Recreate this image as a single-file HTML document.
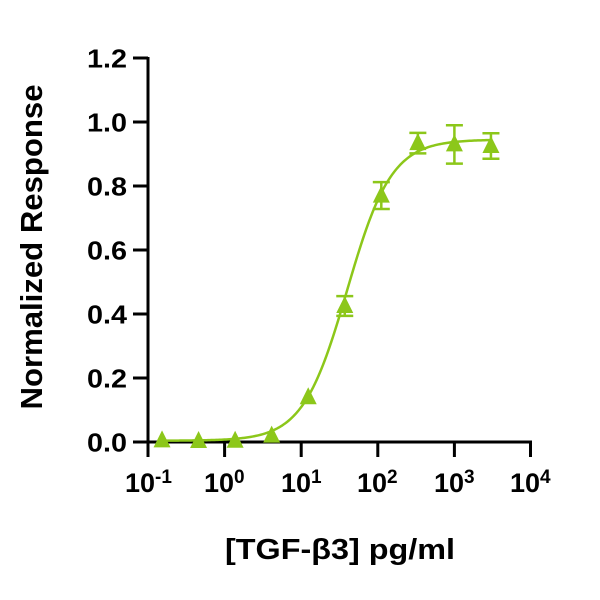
<!DOCTYPE html>
<html>
<head>
<meta charset="utf-8">
<style>
html,body{margin:0;padding:0;background:#fff;}
svg{display:block;}
text{font-family:"Liberation Sans",sans-serif;font-weight:bold;fill:#000;}
</style>
</head>
<body>
<svg id="chart" width="600" height="600" viewBox="0 0 600 600" xmlns="http://www.w3.org/2000/svg">
  <rect width="600" height="600" fill="#fff"/>
  <!-- axes -->
  <g stroke="#000" stroke-width="3" fill="none" stroke-linecap="butt">
    <line x1="148" y1="57" x2="148" y2="443.5"/>
    <line x1="146.5" y1="442" x2="532" y2="442"/>
    <!-- y ticks -->
    <line x1="133" y1="58" x2="148" y2="58"/>
    <line x1="133" y1="122" x2="148" y2="122"/>
    <line x1="133" y1="186" x2="148" y2="186"/>
    <line x1="133" y1="250" x2="148" y2="250"/>
    <line x1="133" y1="314" x2="148" y2="314"/>
    <line x1="133" y1="378" x2="148" y2="378"/>
    <line x1="133" y1="442" x2="148" y2="442"/>
    <!-- x ticks -->
    <line x1="148" y1="442" x2="148" y2="457"/>
    <line x1="224.6" y1="442" x2="224.6" y2="457"/>
    <line x1="301.2" y1="442" x2="301.2" y2="457"/>
    <line x1="377.8" y1="442" x2="377.8" y2="457"/>
    <line x1="454.4" y1="442" x2="454.4" y2="457"/>
    <line x1="530.5" y1="442" x2="530.5" y2="457"/>
  </g>
  <!-- y tick labels -->
  <g font-size="26">
    <text x="87" y="67.5" textLength="40" lengthAdjust="spacingAndGlyphs">1.2</text>
    <text x="87" y="131.5" textLength="40" lengthAdjust="spacingAndGlyphs">1.0</text>
    <text x="87" y="195.5" textLength="40" lengthAdjust="spacingAndGlyphs">0.8</text>
    <text x="87" y="259.5" textLength="40" lengthAdjust="spacingAndGlyphs">0.6</text>
    <text x="87" y="323.5" textLength="40" lengthAdjust="spacingAndGlyphs">0.4</text>
    <text x="87" y="387.5" textLength="40" lengthAdjust="spacingAndGlyphs">0.2</text>
    <text x="87" y="451.5" textLength="40" lengthAdjust="spacingAndGlyphs">0.0</text>
  </g>
  <!-- x tick labels -->
  <g font-size="27">
    <text x="125" y="492">10<tspan font-size="19" dy="-9">-1</tspan></text>
    <text x="204" y="492">10<tspan font-size="19" dy="-9">0</tspan></text>
    <text x="281" y="492">10<tspan font-size="19" dy="-9">1</tspan></text>
    <text x="357" y="492">10<tspan font-size="19" dy="-9">2</tspan></text>
    <text x="434" y="492">10<tspan font-size="19" dy="-9">3</tspan></text>
    <text x="510" y="492">10<tspan font-size="19" dy="-9">4</tspan></text>
  </g>
  <!-- axis titles -->
  <text x="0" y="0" font-size="31" text-anchor="middle" textLength="325" lengthAdjust="spacingAndGlyphs" transform="translate(42,247) rotate(-90)">Normalized Response</text>
  <text x="340" y="559" font-size="29" text-anchor="middle" textLength="230" lengthAdjust="spacingAndGlyphs">[TGF-β3] pg/ml</text>
  <!-- data -->
  <path id="curve" d="" stroke="#8cc71a" stroke-width="2.5" fill="none"/>
  <g id="errs" stroke="#8cc71a" stroke-width="2.5" fill="none"></g>
  <g id="marks" fill="#8cc71a"></g>
</svg>
<script>
(function(){
  var NS="http://www.w3.org/2000/svg";
  function px(lx){return 148+(lx+1)*76.6;}
  function py(v){return 442-v*320;}
  var b=0.004,t=0.945,lec=1.6,h=1.5;
  function f(lx){return b+(t-b)/(1+Math.pow(10,(lec-lx)*h));}
  var x0=Math.log10(3000/19683), x1=Math.log10(3000);
  var d="";
  for(var i=0;i<=200;i++){
    var lx=x0+(x1-x0)*i/200;
    d+=(i?"L":"M")+px(lx).toFixed(2)+","+py(f(lx)).toFixed(2);
  }
  document.getElementById("curve").setAttribute("d",d);
  var data=[
    [3000/19683,0.005,0],[3000/6561,0.003,0],[3000/2187,0.004,0],[3000/729,0.02,0],
    [3000/243,0.14,0],[3000/81,0.425,0.031],[3000/27,0.77,0.042],
    [3000/9,0.934,0.032],[1000,0.93,0.06],[3000,0.925,0.04]
  ];
  var errs=document.getElementById("errs"), marks=document.getElementById("marks");
  data.forEach(function(p){
    var cx=px(Math.log10(p[0])), cy=py(p[1]);
    if(p[2]>0){
      var yt=py(p[1]+p[2]), yb=py(p[1]-p[2]);
      var e=document.createElementNS(NS,"path");
      e.setAttribute("d","M"+cx+","+yt+"L"+cx+","+yb+"M"+(cx-8.5)+","+yt+"L"+(cx+8.5)+","+yt+"M"+(cx-8.5)+","+yb+"L"+(cx+8.5)+","+yb);
      errs.appendChild(e);
    }
    var m=document.createElementNS(NS,"polygon");
    m.setAttribute("points",cx+","+(cy-10)+" "+(cx+8.5)+","+(cy+7)+" "+(cx-8.5)+","+(cy+7));
    marks.appendChild(m);
  });
})();
</script>
</body>
</html>
